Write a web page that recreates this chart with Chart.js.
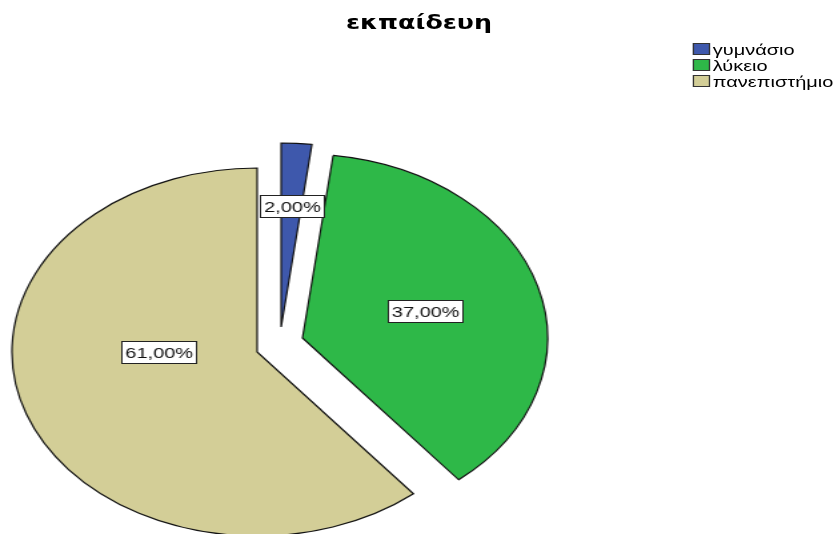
<!DOCTYPE html>
<html lang="el">
<head>
<meta charset="utf-8">
<title>εκπαίδευη</title>
<script src="https://cdn.jsdelivr.net/npm/chart.js@4.4.1/dist/chart.umd.min.js"></script>
<style>
  html, body { margin: 0; background: #fff; }
  /* the whole figure is drawn narrow and stretched sideways, pie, text and all */
  #stage {
    position: relative; width: 629px; height: 534px; overflow: hidden;
    transform: scaleX(1.3323); transform-origin: 0 0;
    font-family: "Liberation Sans", Arial, sans-serif; color: #000;
  }
  #title {
    position: absolute; left: 0; right: 0; top: 12px;
    text-align: center; font-family: "DejaVu Sans", sans-serif;
    font-weight: bold; font-size: 19px; line-height: 20px;
  }
  #legend { position: absolute; left: 520px; top: 41px; margin: 0; padding: 0; list-style: none; font-size: 15px; }
  #legend li { height: 16px; display: flex; align-items: center; white-space: nowrap; }
  #legend .sw { width: 11px; height: 10px; border: 1px solid #333; margin-right: 2px; }
  #chart { position: absolute; left: 0; top: 0; }
</style>
</head>
<body>
<div id="stage">
  <div id="title"></div>
  <ul id="legend"></ul>
  <canvas id="chart" width="629" height="534"></canvas>
</div>
<script>
// εκπαίδευση – ποσοστά ανά επίπεδο
const chartTitle = "εκπαίδευη";
const categories = ["γυμνάσιο", "λύκειο", "πανεπιστήμιο"];
const percents = [2, 37, 61];

const colors = ["#3e58ac", "#2eb848", "#d3ce97"];

// πόσο "βγαίνει" κάθε φέτα (px), και πού κάθεται η ετικέτα της
const SHIFTS = [[18, -25], [34, -14], [0, 0]];
const LABEL_RADIUS = [0.66, 0.52, 0.40];
const LABEL_NUDGE = [[0, 0], [0, 0], [-5, -25]];

const pct = v => v.toFixed(2).replace(".", ",") + "%";

document.getElementById("title").textContent = chartTitle;
document.getElementById("legend").innerHTML = categories.map((c, i) =>
  `<li><span class="sw" style="background:${colors[i]}"></span>${c}</li>`).join("");

// μετατόπιση των φετών χωρίς να μεγαλώνει η ακτίνα τους
const explode = {
  id: "explode",
  beforeDatasetsDraw(chart) {
    chart.getDatasetMeta(0).data.forEach((arc, i) => {
      if (arc.$shifted) return;
      const base = arc.draw;
      arc.draw = function (ctx, area) {
        const [dx, dy] = SHIFTS[i] || [0, 0];
        ctx.save();
        ctx.translate(dx, dy);
        base.call(this, ctx, area);
        ctx.restore();
      };
      arc.$shifted = true;
    });
  }
};

// ετικέτες ποσοστών σε λευκά κουτάκια
const sliceLabels = {
  id: "sliceLabels",
  afterDatasetsDraw(chart) {
    const ctx = chart.ctx;
    const meta = chart.getDatasetMeta(0);
    ctx.save();
    ctx.font = "15px 'Liberation Sans', Arial, sans-serif";
    ctx.textAlign = "center";
    ctx.textBaseline = "middle";
    meta.data.forEach((arc, i) => {
      const { x, y, startAngle, endAngle, outerRadius } = arc.getProps(["x", "y", "startAngle", "endAngle", "outerRadius"]);
      const mid = (startAngle + endAngle) / 2;
      const r = outerRadius * LABEL_RADIUS[i];
      const cx = x + SHIFTS[i][0] + Math.cos(mid) * r + LABEL_NUDGE[i][0];
      const cy = y + SHIFTS[i][1] + Math.sin(mid) * r + LABEL_NUDGE[i][1];
      const txt = pct(percents[i]);
      const w = Math.round(ctx.measureText(txt).width + 5);
      const h = 22;
      const bx = Math.round(cx - w / 2) + 0.5, by = Math.round(cy - h / 2) + 0.5;
      ctx.fillStyle = "#fff";
      ctx.fillRect(bx, by, w, h);
      ctx.strokeStyle = "#222";
      ctx.lineWidth = 1;
      ctx.strokeRect(bx, by, w, h);
      ctx.fillStyle = "#111";
      ctx.fillText(txt, bx + w / 2, by + h / 2 + 1);
    });
    ctx.restore();
  }
};

new Chart(document.getElementById("chart"), {
  type: "pie",
  data: {
    labels: categories,
    datasets: [{
      data: percents,
      backgroundColor: colors,
      borderColor: "#111",
      borderWidth: 1.2,
      borderJoinStyle: "miter",
      radius: 184,
      clip: false
    }]
  },
  options: {
    responsive: false,
    devicePixelRatio: 1,
    animation: false,
    events: [],
    layout: { padding: { left: 0, right: 243, top: 170, bottom: 0 } },
    plugins: {
      legend: { display: false },
      tooltip: { enabled: false }
    }
  },
  plugins: [explode, sliceLabels]
});
</script>
</body>
</html>
